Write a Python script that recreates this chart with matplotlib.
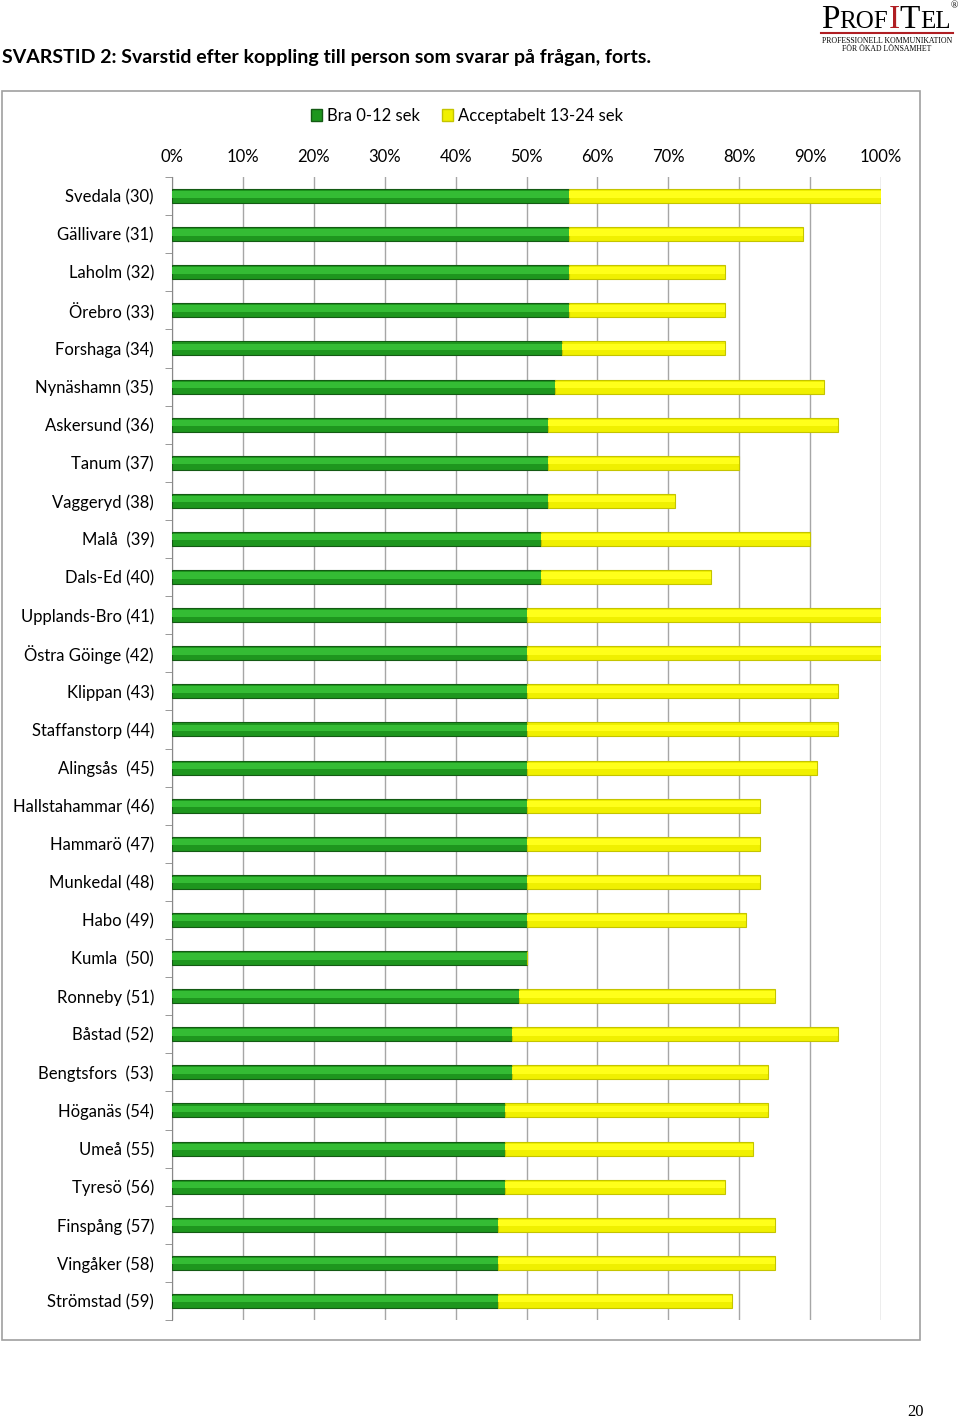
import matplotlib.pyplot as plt
import numpy as np
from matplotlib.patches import Rectangle
from matplotlib.lines import Line2D

plt.rcParams['font.family'] = ['Lato', 'DejaVu Sans']

kommuner = ["Svedala (30)", "Gällivare (31)", "Laholm (32)", "Örebro (33)", "Forshaga (34)",
            "Nynäshamn (35)", "Askersund (36)", "Tanum (37)", "Vaggeryd (38)", "Malå  (39)",
            "Dals-Ed (40)", "Upplands-Bro (41)", "Östra Göinge (42)", "Klippan (43)",
            "Staffanstorp (44)", "Alingsås  (45)", "Hallstahammar (46)", "Hammarö (47)",
            "Munkedal (48)", "Habo (49)", "Kumla  (50)", "Ronneby (51)", "Båstad (52)",
            "Bengtsfors  (53)", "Höganäs (54)", "Umeå (55)", "Tyresö (56)", "Finspång (57)",
            "Vingåker (58)", "Strömstad (59)"]

bra = [56, 56, 56, 56, 55, 54, 53, 53, 53, 52, 52, 50, 50, 50, 50, 50, 50, 50, 50, 50,
       50, 49, 48, 48, 47, 47, 47, 46, 46, 46]
acceptabelt = [44, 33, 22, 22, 23, 38, 41, 27, 18, 38, 24, 50, 50, 44, 44, 41, 33, 33, 33, 31,
               0, 36, 46, 36, 37, 35, 31, 39, 39, 33]

x_ticks = [0, 10, 20, 30, 40, 50, 60, 70, 80, 90, 100]

fig = plt.figure(figsize=(9.6, 14.2), dpi=100)
ax = fig.add_axes([172 / 960, 1 - 1320 / 1420, (881 - 172) / 960, (1320 - 177) / 1420])

y = np.arange(len(kommuner))
h = 0.37
bra = np.array(bra)
acc = np.array(acceptabelt)

# staplar med enkel ljus överkant
ax.barh(y, bra, height=h, color='#1E961E', edgecolor='#145A14', linewidth=0.8, zorder=3)
ax.barh(y - h * 0.12, bra, height=h * 0.45, color='#34BC34', linewidth=0, zorder=4)
ax.barh(y, acc, left=bra, height=h, color='#F0F000', edgecolor='#C4C400', linewidth=0.8, zorder=3)
ax.barh(y - h * 0.12, acc, left=bra, height=h * 0.45, color='#FFFF1A', linewidth=0, zorder=4)

ax.set_xlim(0, 100)
ax.set_ylim(len(kommuner) - 0.5, -0.5)
ax.set_xticks(x_ticks)
ax.set_xticklabels([f"{v}%" for v in x_ticks], fontsize=12)
ax.xaxis.tick_top()
ax.tick_params(axis='x', length=0, pad=9)
ax.set_yticks(y)
ax.set_yticklabels(kommuner, fontsize=12)
ax.set_yticks(np.arange(-0.5, len(kommuner), 1), minor=True)
ax.tick_params(axis='y', which='major', length=0, pad=13)
ax.tick_params(axis='y', which='minor', length=5, color='#888888')
ax.grid(axis='x', color='#A6A6A6', linewidth=1, zorder=0)
for s in ['top', 'right', 'bottom']:
    ax.spines[s].set_visible(False)
ax.spines['left'].set_color('#888888')

# legend
handles = [Rectangle((0, 0), 1, 1, facecolor='#1E961E', edgecolor='#145A14'),
           Rectangle((0, 0), 1, 1, facecolor='#F0F000', edgecolor='#C4C400')]
fig.legend(handles, ["Bra 0-12 sek", "Acceptabelt 13-24 sek"], ncol=2, frameon=False,
           loc='center', bbox_to_anchor=(467 / 960, 1 - 116 / 1420), fontsize=12,
           handlelength=0.7, handleheight=0.7, handletextpad=0.3, columnspacing=1.3)

# diagramram
fig.patches.append(Rectangle((2 / 960, 1 - 1340 / 1420), 918 / 960, (1340 - 91) / 1420,
                             transform=fig.transFigure, fill=False, edgecolor='#A0A0A0', linewidth=1.2))

fig.text(2 / 960, 1 - 57 / 1420, "SVARSTID 2: Svarstid efter koppling till person som svarar på frågan, forts.",
         fontsize=14.0, fontweight='bold', va='center', ha='left')

# logga
ly = 1 - 28 / 1420
x0 = 821 / 960
parts = [("P", 24, 'black'), ("ROF", 18, 'black'), ("I", 24, '#B01E23'), ("T", 24, 'black'), ("EL", 18, 'black')]
r = fig.canvas.get_renderer()
xx = x0
for txt, fs, col in parts:
    t = fig.text(xx, ly, txt, fontsize=fs, color=col, family='Liberation Serif', va='baseline', ha='left')
    bb = t.get_window_extent(renderer=r)
    xx += bb.width / 960
fig.text(xx, 1 - 6 / 1420, "®", fontsize=7, family='Liberation Serif', ha='left', va='center')
fig.lines.append(Line2D([821 / 960, 953 / 960], [1 - 33 / 1420, 1 - 33 / 1420], transform=fig.transFigure,
                        color='#B01E23', linewidth=1.5))
fig.text(887 / 960, 1 - 41 / 1420, "PROFESSIONELL KOMMUNIKATION", fontsize=5.6, family='Liberation Serif',
         ha='center', va='center')
fig.text(887 / 960, 1 - 49 / 1420, "FÖR ÖKAD LÖNSAMHET", fontsize=5.6, family='Liberation Serif',
         ha='center', va='center')

fig.text(915 / 960, 1 - 1412 / 1420, "20", fontsize=12, family='Liberation Serif', ha='center', va='center')

fig.savefig('out.png', dpi=100)
